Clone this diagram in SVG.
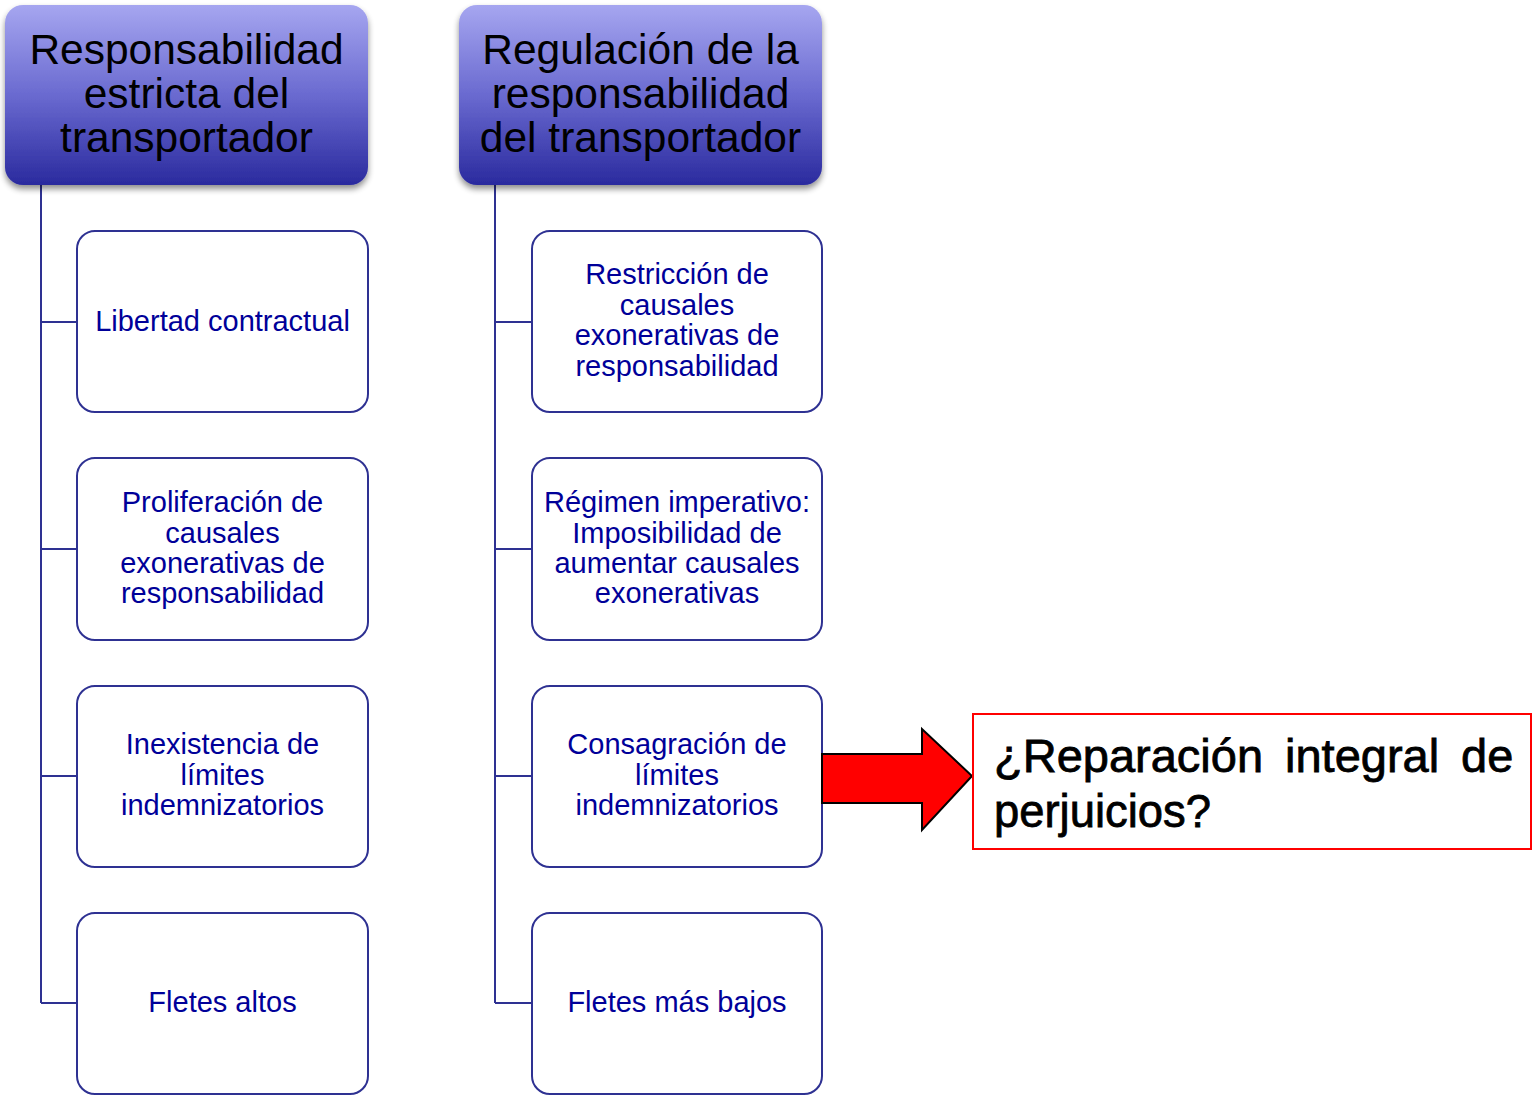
<svg xmlns="http://www.w3.org/2000/svg" width="1532" height="1098" viewBox="0 0 1532 1098">
<defs>
<linearGradient id="hg" x1="0" y1="0" x2="0" y2="1">
<stop offset="0" stop-color="#a6a6f0"/>
<stop offset="0.5" stop-color="#6a6ad0"/>
<stop offset="1" stop-color="#2a2a9e"/>
</linearGradient>
<filter id="sh" x="-10%" y="-10%" width="120%" height="130%">
<feGaussianBlur in="SourceAlpha" stdDeviation="3"/>
<feOffset dx="0" dy="4"/>
<feComponentTransfer><feFuncA type="linear" slope="0.45"/></feComponentTransfer>
<feMerge><feMergeNode/><feMergeNode in="SourceGraphic"/></feMerge>
</filter>
</defs>
<style>
.hdr{fill:url(#hg);filter:url(#sh)}
.ht{font-family:"Liberation Sans",Arial,sans-serif;font-size:42.5px;fill:#000;text-anchor:middle}
.box{fill:#fff;stroke:#2e3192;stroke-width:2}
.bt{font-family:"Liberation Sans",Arial,sans-serif;font-size:29px;fill:#000099;text-anchor:middle}
.con{fill:none;stroke:#2e3192;stroke-width:2}
.qt{font-family:"Liberation Sans",Arial,sans-serif;font-size:47px;fill:#000;stroke:#000;stroke-width:0.8}
</style>
<rect width="1532" height="1098" fill="#fff"/>
<g id="connectors">
<path class="con" d="M41 185 V1003 M41 322 H77 M41 549 H77 M41 776 H77 M41 1003 H77"/>
<path class="con" d="M495 185 V1003 M495 322 H532 M495 549 H532 M495 776 H532 M495 1003 H532"/>
</g>
<g id="h1">
<rect class="hdr" x="5" y="5" width="363" height="180" rx="18"/>
<text class="ht" x="186.5" y="64">Responsabilidad</text>
<text class="ht" x="186.5" y="108">estricta del</text>
<text class="ht" x="186.5" y="152">transportador</text>
</g>
<g id="h2">
<rect class="hdr" x="459" y="5" width="363" height="180" rx="18"/>
<text class="ht" x="640.5" y="64">Regulación de la</text>
<text class="ht" x="640.5" y="108">responsabilidad</text>
<text class="ht" x="640.5" y="152">del transportador</text>
</g>
<g id="l1">
<rect class="box" x="77" y="231" width="291" height="181" rx="18"/>
<text class="bt" x="222.5" y="331">Libertad contractual</text>
</g>
<g id="l2">
<rect class="box" x="77" y="458" width="291" height="182" rx="18"/>
<text class="bt" x="222.5" y="512">Proliferación de</text>
<text class="bt" x="222.5" y="543">causales</text>
<text class="bt" x="222.5" y="573">exonerativas de</text>
<text class="bt" x="222.5" y="603">responsabilidad</text>
</g>
<g id="l3">
<rect class="box" x="77" y="686" width="291" height="181" rx="18"/>
<text class="bt" x="222.5" y="754">Inexistencia de</text>
<text class="bt" x="222.5" y="785">límites</text>
<text class="bt" x="222.5" y="815">indemnizatorios</text>
</g>
<g id="l4">
<rect class="box" x="77" y="913" width="291" height="181" rx="18"/>
<text class="bt" x="222.5" y="1012">Fletes altos</text>
</g>
<g id="r1">
<rect class="box" x="532" y="231" width="290" height="181" rx="18"/>
<text class="bt" x="677" y="284">Restricción de</text>
<text class="bt" x="677" y="315">causales</text>
<text class="bt" x="677" y="345">exonerativas de</text>
<text class="bt" x="677" y="376">responsabilidad</text>
</g>
<g id="r2">
<rect class="box" x="532" y="458" width="290" height="182" rx="18"/>
<text class="bt" x="677" y="512">Régimen imperativo:</text>
<text class="bt" x="677" y="543">Imposibilidad de</text>
<text class="bt" x="677" y="573">aumentar causales</text>
<text class="bt" x="677" y="603">exonerativas</text>
</g>
<g id="r3">
<rect class="box" x="532" y="686" width="290" height="181" rx="18"/>
<text class="bt" x="677" y="754">Consagración de</text>
<text class="bt" x="677" y="785">límites</text>
<text class="bt" x="677" y="815">indemnizatorios</text>
</g>
<g id="r4">
<rect class="box" x="532" y="913" width="290" height="181" rx="18"/>
<text class="bt" x="677" y="1012">Fletes más bajos</text>
</g>
<g id="arrow">
<polygon points="822,754 922,754 922,729 972,776 922,830 922,803 822,803" fill="#ff0000" stroke="#000" stroke-width="2"/>
</g>
<g id="question">
<rect x="973" y="714" width="558" height="135" fill="#fff" stroke="#ff0000" stroke-width="2"/>
<text class="qt" y="772"><tspan x="994">¿Reparación</tspan><tspan x="1285">integral</tspan><tspan x="1461">de</tspan></text>
<text class="qt" x="994" y="827" textLength="217" lengthAdjust="spacingAndGlyphs">perjuicios?</text>
</g>
</svg>
